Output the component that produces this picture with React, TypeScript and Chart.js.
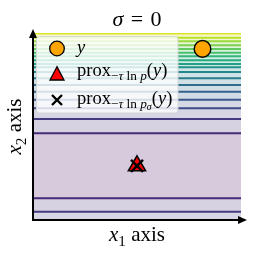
import React, { useEffect, useRef } from 'react';
import { Chart, registerables } from 'chart.js';

Chart.register(...registerables);

// ---- data (axes have no ticks, domain taken as [-1, 1]) ----
const axisRange = [-1, 1];
// x2 position of each drawn contour line
const contourX2 = [0.995, 0.95, 0.911, 0.868, 0.829, 0.789, 0.751, 0.708, 0.668, 0.633, 0.583, 0.516, 0.444, 0.372, 0.287, 0.195, 0.08, -0.073, -0.768, -0.911];
// contour level index of each line (1 = lowest)
const contourLevel = [18, 17, 16, 15, 14, 13, 12, 11, 10, 9, 8, 7, 6, 5, 4, 3, 2, 1, 1, 2];
const pointYx = [0.63];
const pointYy = [0.83];
const proxPx = [0.0];
const proxPy = [-0.42];
const proxPSx = [0.0];
const proxPSy = [-0.42];

// ---- styling helpers ----
const VIR = [[68, 1, 84], [72, 36, 117], [65, 68, 135], [53, 95, 141], [42, 120, 142], [33, 145, 140], [34, 168, 132], [68, 191, 112], [122, 209, 81], [189, 223, 38], [253, 231, 37]];
function viridis(t: number, a = 1) {
  const tt = Math.max(0, Math.min(1, t));
  const f = tt * 10;
  const i = Math.min(9, Math.floor(f));
  const u = f - i;
  const c = VIR[i].map((v, k) => Math.round(v + (VIR[i + 1][k] - v) * u));
  return `rgba(${c[0]},${c[1]},${c[2]},${a})`;
}
const T0 = 0.12;
const TSTEP = (0.95 - 0.12) / 17;
const lineT = (k: number) => T0 + (k - 1) * TSTEP;

type Seg = { t: string; it?: boolean; lvl?: number };
const FONT = '"Liberation Serif", "DejaVu Serif", serif';
function segFont(s: Seg, base: number) {
  const lvl = s.lvl || 0;
  const size = lvl === 0 ? base : lvl === 1 ? base * 0.72 : base * 0.54;
  return `${s.it ? 'italic ' : ''}${size}px ${FONT}`;
}
function segDy(s: Seg, base: number) {
  const lvl = s.lvl || 0;
  return lvl === 0 ? 0 : lvl === 1 ? base * 0.22 : base * 0.36;
}
function mathWidth(ctx: CanvasRenderingContext2D, segs: Seg[], base: number) {
  let w = 0;
  for (const s of segs) {
    ctx.font = segFont(s, base);
    w += ctx.measureText(s.t).width;
  }
  return w;
}
function drawMath(ctx: CanvasRenderingContext2D, segs: Seg[], x: number, y: number, base: number) {
  let cx = x;
  ctx.textAlign = 'left';
  ctx.textBaseline = 'alphabetic';
  for (const s of segs) {
    ctx.font = segFont(s, base);
    ctx.fillText(s.t, cx, y + segDy(s, base));
    cx += ctx.measureText(s.t).width;
  }
}

const titleSegs: Seg[] = [{ t: 'σ', it: true }, { t: '\u2004=\u20040' }];
const xLabelSegs: Seg[] = [{ t: 'x', it: true }, { t: '1', lvl: 1 }, { t: ' axis' }];
const yLabelSegs: Seg[] = [{ t: 'x', it: true }, { t: '2', lvl: 1 }, { t: ' axis' }];
const legendSegs: Seg[][] = [
  [{ t: 'y', it: true }],
  [{ t: 'prox' }, { t: '−', lvl: 1 }, { t: 'τ', it: true, lvl: 1 }, { t: ' ln ', lvl: 1 }, { t: 'p', it: true, lvl: 1 }, { t: '(' }, { t: 'y', it: true }, { t: ')' }],
  [{ t: 'prox' }, { t: '−', lvl: 1 }, { t: 'τ', it: true, lvl: 1 }, { t: ' ln ', lvl: 1 }, { t: 'p', it: true, lvl: 1 }, { t: 'σ', it: true, lvl: 2 }, { t: '(' }, { t: 'y', it: true }, { t: ')' }],
];

const overlay = {
  id: 'overlay',
  afterDraw(chart: any) {
    const ctx: CanvasRenderingContext2D = chart.ctx;
    const a = chart.chartArea;
    ctx.save();
    // spines with arrows
    ctx.strokeStyle = '#000';
    ctx.fillStyle = '#000';
    ctx.lineWidth = 2;
    ctx.beginPath();
    ctx.moveTo(a.left, a.bottom + 1);
    ctx.lineTo(a.left, a.top);
    ctx.moveTo(a.left - 1, a.bottom);
    ctx.lineTo(a.right + 2, a.bottom);
    ctx.stroke();
    ctx.beginPath();
    ctx.moveTo(a.left, a.top - 4);
    ctx.lineTo(a.left - 4, a.top + 5);
    ctx.lineTo(a.left + 4, a.top + 5);
    ctx.closePath();
    ctx.fill();
    ctx.beginPath();
    ctx.moveTo(a.right + 6, a.bottom);
    ctx.lineTo(a.right - 3, a.bottom - 4);
    ctx.lineTo(a.right - 3, a.bottom + 4);
    ctx.closePath();
    ctx.fill();

    // title and axis labels
    const cxm = (a.left + a.right) / 2;
    const cym = (a.top + a.bottom) / 2;
    ctx.fillStyle = '#000';
    let w = mathWidth(ctx, titleSegs, 22);
    drawMath(ctx, titleSegs, cxm - w / 2, 26, 22);
    w = mathWidth(ctx, xLabelSegs, 21);
    drawMath(ctx, xLabelSegs, cxm - w / 2, 241, 21);
    ctx.save();
    ctx.translate(21, cym);
    ctx.rotate(-Math.PI / 2);
    w = mathWidth(ctx, yLabelSegs, 21);
    drawMath(ctx, yLabelSegs, -w / 2, 0, 21);
    ctx.restore();

    // legend
    const lx = 36.5, ly = 36.5, lw = 141.5, lh = 76.5, r = 3;
    ctx.beginPath();
    ctx.moveTo(lx + r, ly);
    ctx.lineTo(lx + lw - r, ly);
    ctx.arcTo(lx + lw, ly, lx + lw, ly + r, r);
    ctx.lineTo(lx + lw, ly + lh - r);
    ctx.arcTo(lx + lw, ly + lh, lx + lw - r, ly + lh, r);
    ctx.lineTo(lx + r, ly + lh);
    ctx.arcTo(lx, ly + lh, lx, ly + lh - r, r);
    ctx.lineTo(lx, ly + r);
    ctx.arcTo(lx, ly, lx + r, ly, r);
    ctx.closePath();
    ctx.fillStyle = 'rgba(255,255,255,0.8)';
    ctx.fill();
    ctx.strokeStyle = '#d6d6d6';
    ctx.lineWidth = 1;
    ctx.stroke();

    const mx = 57;
    const rows = [48.5, 73.5, 100];
    const bases = [52.5, 76, 103.5];
    // circle
    ctx.beginPath();
    ctx.arc(mx, rows[0], 7.3, 0, Math.PI * 2);
    ctx.fillStyle = '#ffa500';
    ctx.fill();
    ctx.strokeStyle = '#000';
    ctx.lineWidth = 1.3;
    ctx.stroke();
    // triangle
    ctx.beginPath();
    ctx.moveTo(mx, rows[1] - 6.8);
    ctx.lineTo(mx - 7, rows[1] + 6.5);
    ctx.lineTo(mx + 7, rows[1] + 6.5);
    ctx.closePath();
    ctx.fillStyle = '#ff0000';
    ctx.fill();
    ctx.stroke();
    // x
    ctx.beginPath();
    ctx.moveTo(mx - 5, rows[2] - 5);
    ctx.lineTo(mx + 5, rows[2] + 5);
    ctx.moveTo(mx + 5, rows[2] - 5);
    ctx.lineTo(mx - 5, rows[2] + 5);
    ctx.lineWidth = 2.4;
    ctx.stroke();

    ctx.fillStyle = '#000';
    legendSegs.forEach((segs, i) => drawMath(ctx, segs, 77, bases[i], 18.5));
    ctx.restore();
  },
};

function buildDatasets() {
  const lo = axisRange[0];
  const hi = axisRange[1];
  const ds: any[] = [];
  // markers
  ds.push({
    label: 'y', data: pointYx.map((x, i) => ({ x, y: pointYy[i] })), showLine: false,
    pointStyle: 'circle', pointRadius: 8.3, pointBackgroundColor: '#ffa500', pointBorderColor: '#000', pointBorderWidth: 1.5, order: 0,
  });
  ds.push({
    label: 'prox p', data: proxPx.map((x, i) => ({ x, y: proxPy[i] })), showLine: false,
    pointStyle: 'triangle', pointRadius: 10, pointBackgroundColor: '#ff0000', pointBorderColor: '#000', pointBorderWidth: 1.5, order: 0,
  });
  ds.push({
    label: 'prox p sigma', data: proxPSx.map((x, i) => ({ x, y: proxPSy[i] })), showLine: false,
    pointStyle: 'crossRot', pointRadius: 8.5, pointBackgroundColor: '#000', pointBorderColor: '#000', pointBorderWidth: 2.5, order: -1,
  });
  // contour lines
  contourX2.forEach((y, i) => {
    ds.push({
      label: 'c' + i, data: [{ x: lo, y }, { x: hi, y }], borderColor: viridis(lineT(contourLevel[i])),
      borderWidth: 2, pointRadius: 0, fill: false, order: 1,
    });
  });
  // filled bands
  const pairs = contourX2.map((y, i) => ({ y, k: contourLevel[i] })).sort((p, q) => p.y - q.y);
  for (let i = 0; i <= pairs.length; i++) {
    const bottom = i === 0 ? lo : pairs[i - 1].y;
    const top = i === pairs.length ? hi : pairs[i].y;
    let band: number;
    if (i === 0) band = pairs[0].k;
    else if (i === pairs.length) band = pairs[pairs.length - 1].k;
    else {
      const ka = pairs[i - 1].k, kb = pairs[i].k;
      band = ka === kb ? ka - 1 : Math.min(ka, kb);
    }
    const t = band === 0 ? 0.04 : lineT(band) + TSTEP / 2;
    ds.push({
      label: 'b' + i, data: [{ x: lo, y: top }, { x: hi, y: top }], borderColor: 'rgba(0,0,0,0)', borderWidth: 0,
      pointRadius: 0, fill: { value: bottom }, backgroundColor: viridis(t, 0.22), order: 2,
    });
  }
  return ds;
}

export default function App() {
  const ref = useRef<HTMLCanvasElement | null>(null);
  useEffect(() => {
    if (!ref.current) return;
    const chart = new Chart(ref.current, {
      type: 'line',
      data: { datasets: buildDatasets() },
      options: {
        responsive: false,
        animation: false,
        events: [],
        layout: { padding: { left: 33, top: 33, right: 13, bottom: 34 } },
        scales: {
          x: { type: 'linear', min: axisRange[0], max: axisRange[1], display: false },
          y: { type: 'linear', min: axisRange[0], max: axisRange[1], display: false },
        },
        plugins: { legend: { display: false }, title: { display: false }, tooltip: { enabled: false } },
      },
      plugins: [overlay],
    } as any);
    return () => chart.destroy();
  }, []);
  return (
    <div style={{ position: 'absolute', left: 0, top: 0, width: 254, height: 254, background: '#fff' }}>
      <canvas ref={ref} width={254} height={254} style={{ width: 254, height: 254 }} />
    </div>
  );
}
